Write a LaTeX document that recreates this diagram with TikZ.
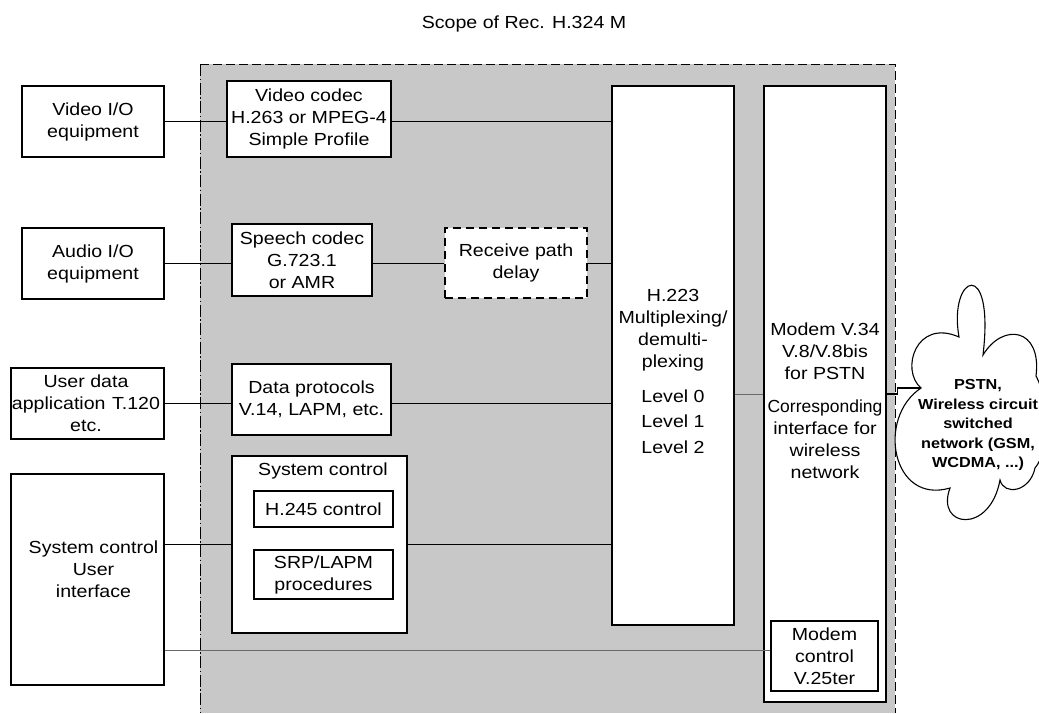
\documentclass[tikz,border=0pt]{standalone}
\usepackage{fontspec}
\setmainfont{Liberation Sans}[FakeStretch=1.12]
\newfontfamily\condfont{Liberation Sans}[FakeStretch=1.0]
\newcommand\boxfont{\fontsize{17.5}{22}\selectfont}
\newcommand\cloudfont{\bfseries\fontsize{14.5}{19.5}\selectfont}
\definecolor{scopegray}{RGB}{200,200,200}
\definecolor{wiregray}{RGB}{105,105,105}
\begin{document}
\begin{tikzpicture}[x=1pt,y=-1pt,
  box/.style={draw, line width=1.1pt, fill=white, align=center, inner sep=0pt, font=\boxfont},
  dashbox/.style={box, dash pattern=on 8pt off 5pt},
  label/.style={font=\boxfont, align=center, inner sep=0pt},
  wire/.style={line width=1.1pt},
  thinwire/.style={line width=0.9pt, draw=wiregray}]
\useasboundingbox (0,0) rectangle (1039,713);

% scope area of the recommendation
\fill[scopegray] (200,64) rectangle (895,713);
\draw[line width=1pt, dash pattern=on 9pt off 4pt] (200,64) -- (895,64) -- (895,713);
\draw[line width=1pt, dash pattern=on 12pt off 2.5pt on 1.5pt off 2.5pt] (200,64) -- (200,713);
\node[label] (title) at (524,24) {Scope of Rec. H.324 M};

% external equipment
\node[box, minimum width=142, minimum height=71] (vio) at (93,121.5) {Video I/O\\equipment};
\node[box, minimum width=142, minimum height=71] (aio) at (93,263.5) {Audio I/O\\equipment};
\node[box, minimum width=153, minimum height=71] (ud) at (87.5,403.5) {};
\node[label] (udtxt) at (86,403) {User data\\application\hspace{1pt} T.120\\etc.};
\node[box, minimum width=153, minimum height=211] (scui) at (87.5,579.5) {};
\node[label] (scuitxt) at (93.5,569) {System control\\User\\interface};

% codecs and protocols
\node[box, minimum width=164, minimum height=76] (vcodec) at (309,119) {Video codec\\H.263 or MPEG-4\\Simple Profile};
\node[box, minimum width=140, minimum height=72] (scodec) at (302,260) {Speech codec\\G.723.1\\or AMR};
\node[dashbox, minimum width=142, minimum height=70] (rpd) at (516,263) {Receive path\\delay};
\node[box, minimum width=159, minimum height=71] (dp) at (311.5,399.5) {Data protocols\\V.14, LAPM, etc.};
\node[box, minimum width=175, minimum height=177] (sc) at (319.5,544.5) {};
\node[label] (sctitle) at (323,470.5) {System control};
\node[box, minimum width=139, minimum height=36] (h245) at (323.5,509) {H.245 control};
\node[box, minimum width=139, minimum height=49] (srp) at (323.5,574.5) {SRP/LAPM\\procedures};

% multiplexer and modem
\node[box, minimum width=122, minimum height=539] (h223) at (673,355.5) {};
\node[label] (h223txt) at (673,371) {H.223\\Multiplexing/\\demulti-\\plexing\\[13pt]Level 0\\[3.5pt]Level 1\\[3.5pt]Level 2};
\node[box, minimum width=122, minimum height=616] (modem) at (825,394) {};
\node[label] (modemtxt) at (825,401) {Modem V.34\\V.8/V.8bis\\for PSTN\\[11pt]\condfont Corresponding\\interface for\\wireless\\network};
\node[box, minimum width=107, minimum height=70] (mc) at (824.5,656) {Modem\\control\\V.25ter};

% network cloud
\draw[line width=1.1pt, fill=white]
  (921,388) .. controls (900,370) and (916,318) .. (959,337)
            .. controls (948,275) and (995,255) .. (983,355)
            .. controls (1003,322) and (1042,328) .. (1036,376)
            .. controls (1050,402) and (1050,450) .. (1035,468)
            .. controls (1030,492) and (1004,496) .. (1000,480)
            .. controls (990,535) and (935,528) .. (950,488)
            .. controls (892,505) and (876,418) .. (921,388) -- cycle;
\coordinate (cloudin) at (921,388);
\node[font=\cloudfont, align=center, inner sep=0pt] (cloudtxt) at (978,425)
  {PSTN,\\Wireless circuit\\switched\\network (GSM,\\WCDMA, ...)};

% connections
\draw[wire] (vio.east) -- (vio.east -| vcodec.west);
\draw[wire] (vio.east -| vcodec.east) -- (vio.east -| h223.west);
\draw[wire] (aio.east) -- (aio.east -| scodec.west);
\draw[wire] (aio.east -| scodec.east) -- (aio.east -| rpd.west);
\draw[wire] (aio.east -| rpd.east) -- (aio.east -| h223.west);
\draw[wire] (ud.east) -- (ud.east -| dp.west);
\draw[wire] (ud.east -| dp.east) -- (ud.east -| h223.west);
\draw[wire] (scui.east |- sc.west) -- (sc.west);
\draw[wire] (sc.east) -- (sc.east -| h223.west);
\path ([yshift=6pt]mc.west) coordinate (mcin);
\draw[thinwire] (scui.east |- mcin) -- (mcin);
\draw[thinwire] (h223.east |- modem.west) -- (modem.west);
\draw[wire] (modem.east) -- ++(11,0) |- (cloudin);
\end{tikzpicture}
\end{document}
